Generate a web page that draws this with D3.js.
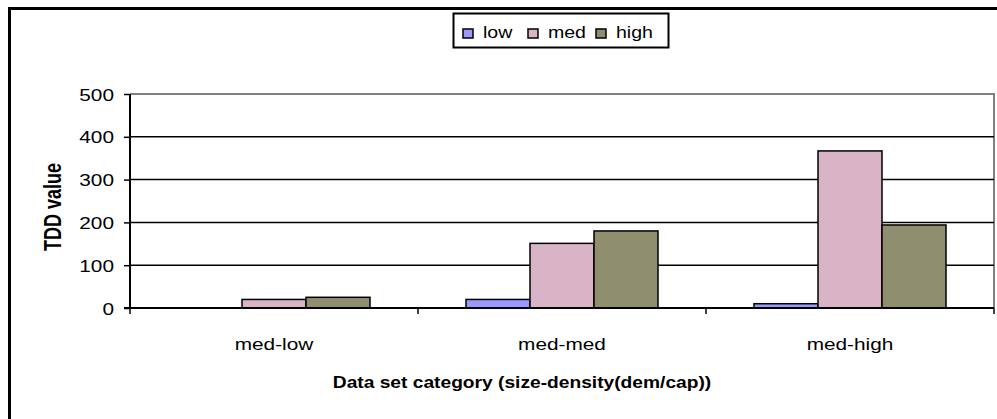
<!DOCTYPE html>
<html><head><meta charset="utf-8">
<script src="https://cdn.jsdelivr.net/npm/d3@7"></script>
<style>body{margin:0;background:#fff;} svg{display:block;font-family:"Liberation Sans",Arial,sans-serif;}</style>
</head><body><svg id="c" width="997" height="419"></svg>
<script>
const categories = ["med-low", "med-med", "med-high"];
const seriesNames = ["low", "med", "high"];
const lowValues = [0, 20, 10];
const medValues = [20, 151, 367];
const highValues = [25, 180, 194];
const yTicks = [0, 100, 200, 300, 400, 500];
const seriesColors = ["#9999ff", "#d8b4c6", "#8f8f70"];
const xTitle = "Data set category (size-density(dem/cap))";
const yTitle = "TDD value";

const seriesValues = [lowValues, medValues, highValues];
const svg = d3.select("#c");
const L = 130, R = 994, T = 94, B = 308;
const SX = 1.3;

// outer chart border (left and top visible)
svg.append("path").attr("d", `M9.5,430 V8.5 H1010`).attr("fill", "none")
  .attr("stroke", "#000").attr("stroke-width", 3);

const x = d3.scaleBand().domain(categories).range([L, R]).padding(0);
const x1 = d3.scaleBand().domain(seriesNames).range([0, x.bandwidth()]).paddingInner(0).paddingOuter(0.75);
const y = d3.scaleLinear().domain([0, 500]).range([B, T]);

// plot area border (gray top & right)
svg.append("path").attr("d", `M${L},${y(500)} H${R} V${B}`).attr("fill", "none")
  .attr("stroke", "#808080").attr("stroke-width", 2);

// gridlines
svg.append("g").selectAll("line").data(yTicks.filter(v => v > 0 && v < 500)).join("line")
  .attr("x1", L).attr("x2", R).attr("y1", d => y(d)).attr("y2", d => y(d))
  .attr("stroke", "#000").attr("stroke-width", 1.5);

// bars
const groups = svg.append("g").selectAll("g").data(categories).join("g")
  .attr("transform", c => `translate(${x(c)},0)`);
groups.selectAll("rect").data((c, ci) => seriesNames.map((s, si) => ({s, si, v: seriesValues[si][ci]})))
  .join("rect")
  .filter(d => d.v > 0)
  .attr("x", d => x1(d.s)).attr("width", x1.bandwidth())
  .attr("y", d => y(d.v)).attr("height", d => y(0) - y(d.v))
  .attr("fill", d => seriesColors[d.si]).attr("stroke", "#000").attr("stroke-width", 1.5);

// y axis
const yAxis = svg.append("g").attr("transform", `translate(${L},0)`)
  .call(d3.axisLeft(y).tickValues(yTicks).tickSize(6).tickFormat(d3.format("d")));
yAxis.select(".domain").attr("stroke", "#000").attr("stroke-width", 2).attr("d", `M0,${y(500)}V${B}`);
yAxis.selectAll(".tick line").attr("stroke", "#000").attr("stroke-width", 1.5);
yAxis.selectAll(".tick text").each(function () {
  const t = d3.select(this);
  t.attr("x", null).attr("dy", null).attr("transform", `translate(-16,6) scale(${SX},1)`)
    .attr("text-anchor", "end").attr("font-size", 16).attr("fill", "#000")
    .attr("font-family", "Liberation Sans, Arial, sans-serif");
});

// x axis
const xAxis = svg.append("g").attr("transform", `translate(0,${B})`);
xAxis.append("line").attr("x1", L - 6).attr("x2", R).attr("stroke", "#000").attr("stroke-width", 2);
const boundaries = categories.map(c => x(c)).concat([x(categories[categories.length - 1]) + x.bandwidth()]);
xAxis.selectAll(".bt").data(boundaries).join("line").attr("class", "bt")
  .attr("x1", d => d).attr("x2", d => d).attr("y1", 0).attr("y2", 6)
  .attr("stroke", "#000").attr("stroke-width", 1.5);
xAxis.selectAll(".cl").data(categories).join("text").attr("class", "cl")
  .attr("transform", c => `translate(${x(c) + x.bandwidth() / 2},42) scale(${SX},1)`)
  .attr("text-anchor", "middle").attr("font-size", 16).text(c => c);

// axis titles
svg.append("text").attr("transform", `translate(522,388) scale(1.2,1)`)
  .attr("text-anchor", "middle").attr("font-size", 16).attr("font-weight", "bold").text(xTitle);
svg.append("text").attr("transform", `translate(61,207) scale(1.3,1) rotate(-90)`)
  .attr("text-anchor", "middle").attr("font-size", 18).attr("font-weight", "bold").text(yTitle);

// legend
const lg = svg.append("g");
lg.append("rect").attr("x", 453.5).attr("y", 13.5).attr("width", 215).attr("height", 34)
  .attr("fill", "#fff").attr("stroke", "#000").attr("stroke-width", 2);
const legendX = [463, 528, 596];
const items = lg.selectAll("g").data(seriesNames).join("g")
  .attr("transform", (d, i) => `translate(${legendX[i]},0)`);
items.append("rect").attr("x", 0).attr("y", 29).attr("width", 10).attr("height", 9)
  .attr("fill", (d, i) => seriesColors[i]).attr("stroke", "#000").attr("stroke-width", 1.5);
items.append("text").attr("transform", `translate(20,38) scale(1.15,1)`)
  .attr("font-size", 17).text(d => d);
</script></body></html>
